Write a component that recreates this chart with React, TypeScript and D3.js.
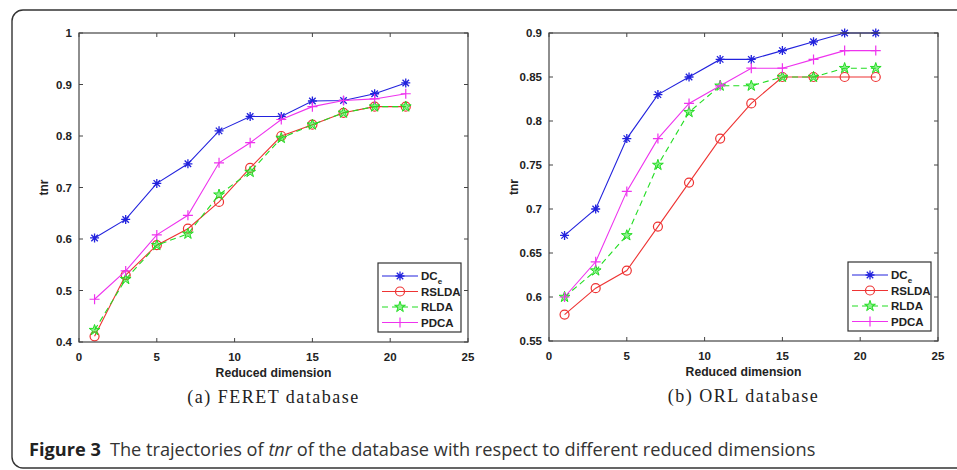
import React from 'react';
import * as d3 from 'd3';

const dims = [1, 3, 5, 7, 9, 11, 13, 15, 17, 19, 21];

// FERET database
const feretDC = [0.602, 0.638, 0.708, 0.746, 0.810, 0.838, 0.838, 0.868, 0.869, 0.882, 0.903];
const feretRSLDA = [0.411, 0.530, 0.588, 0.620, 0.672, 0.738, 0.800, 0.822, 0.845, 0.857, 0.857];
const feretRLDA = [0.423, 0.522, 0.588, 0.610, 0.686, 0.730, 0.796, 0.822, 0.845, 0.857, 0.857];
const feretPDCA = [0.483, 0.538, 0.608, 0.646, 0.748, 0.787, 0.832, 0.857, 0.869, 0.872, 0.882];

// ORL database
const orlDC = [0.67, 0.70, 0.78, 0.83, 0.85, 0.87, 0.87, 0.88, 0.89, 0.90, 0.90];
const orlRSLDA = [0.58, 0.61, 0.63, 0.68, 0.73, 0.78, 0.82, 0.85, 0.85, 0.85, 0.85];
const orlRLDA = [0.60, 0.63, 0.67, 0.75, 0.81, 0.84, 0.84, 0.85, 0.85, 0.86, 0.86];
const orlPDCA = [0.60, 0.64, 0.72, 0.78, 0.82, 0.84, 0.86, 0.86, 0.87, 0.88, 0.88];

const xTicks = [0, 5, 10, 15, 20, 25];
const feretYTicks = [0.4, 0.5, 0.6, 0.7, 0.8, 0.9, 1];
const orlYTicks = [0.55, 0.6, 0.65, 0.7, 0.75, 0.8, 0.85, 0.9];

const seriesNames = ['DC', 'RSLDA', 'RLDA', 'PDCA'];
const colors = ['#2222dd', '#ee3333', '#22dd22', '#ee33ee'];
const markers = ['star', 'circle', 'pentagram', 'plus'];

const axisFont = '"Liberation Sans", Arial, sans-serif';

function Marker({ type, x, y, color }: { type: string; x: number; y: number; color: string }) {
  if (type === 'circle') {
    return <circle cx={x} cy={y} r={4.5} fill="none" stroke={color} strokeWidth={1.2} />;
  }
  if (type === 'plus') {
    return (
      <path d={`M${x - 5},${y}H${x + 5}M${x},${y - 5}V${y + 5}`} stroke={color} strokeWidth={1.2} />
    );
  }
  if (type === 'star') {
    const r = 4.5;
    const d = r * 0.72;
    return (
      <path
        d={`M${x - r},${y}H${x + r}M${x},${y - r}V${y + r}M${x - d},${y - d}L${x + d},${y + d}M${x - d},${y + d}L${x + d},${y - d}`}
        stroke={color}
        strokeWidth={1.3}
      />
    );
  }
  const star = d3.symbol().type(d3.symbolStar).size(36)();
  return (
    <path d={star || ''} transform={`translate(${x},${y})`} fill={color} fillOpacity={0.5} stroke={color} strokeWidth={1} />
  );
}

function Panel({
  left, top, width, height, yDomain, yTicks, tickFmt, series, subtitle,
}: {
  left: number; top: number; width: number; height: number;
  yDomain: [number, number]; yTicks: number[]; tickFmt: (v: number) => string;
  series: number[][]; subtitle: string;
}) {
  const x = d3.scaleLinear().domain([0, 25]).range([left, left + width]);
  const y = d3.scaleLinear().domain(yDomain).range([top + height, top]);
  const line = d3.line<number>().x((_, i) => x(dims[i])).y((v) => y(v));
  const tl = 4;
  const right = left + width;
  const bottom = top + height;

  const lgW = 83;
  const lgH = 69;
  const lgX = right - 7 - lgW;
  const lgY = bottom - 10 - lgH;

  return (
    <g>
      {series.map((vals, si) => (
        <g key={si}>
          <path
            d={line(vals) || ''}
            fill="none"
            stroke={colors[si]}
            strokeWidth={1.1}
            strokeDasharray={si === 2 ? '6,4' : undefined}
          />
          {vals.map((v, i) => (
            <Marker key={i} type={markers[si]} x={x(dims[i])} y={y(v)} color={colors[si]} />
          ))}
        </g>
      ))}
      <rect x={left} y={top} width={width} height={height} fill="none" stroke="#444" strokeWidth={1.2} />
      {xTicks.map((t) => (
        <g key={t}>
          <line x1={x(t)} x2={x(t)} y1={bottom} y2={bottom - tl} stroke="#444" />
          <line x1={x(t)} x2={x(t)} y1={top} y2={top + tl} stroke="#444" />
          <text x={x(t)} y={bottom + 19} textAnchor="middle" fontSize={11.5} fontWeight="bold" fill="#222" fontFamily={axisFont}>
            {t}
          </text>
        </g>
      ))}
      {yTicks.map((t) => (
        <g key={t}>
          <line x1={left} x2={left + tl} y1={y(t)} y2={y(t)} stroke="#444" />
          <line x1={right} x2={right - tl} y1={y(t)} y2={y(t)} stroke="#444" />
          <text x={left - 7} y={y(t) + 4} textAnchor="end" fontSize={11.5} fontWeight="bold" fill="#222" fontFamily={axisFont}>
            {tickFmt(t)}
          </text>
        </g>
      ))}
      <text
        transform={`translate(${left - 31},${(top + bottom) / 2}) rotate(-90)`}
        textAnchor="middle"
        fontSize={12}
        fontWeight="bold"
        fill="#222"
        fontFamily={axisFont}
      >
        tnr
      </text>
      <text x={(left + right) / 2} y={bottom + 35} textAnchor="middle" fontSize={12.2} fontWeight="bold" fill="#222" fontFamily={axisFont}>
        Reduced dimension
      </text>
      <text
        x={(left + right) / 2}
        y={bottom + 61}
        textAnchor="middle"
        fontSize={18}
        letterSpacing={1.5}
        fill="#222"
        fontFamily='"Liberation Serif", serif'
      >
        {subtitle}
      </text>

      <rect x={lgX} y={lgY} width={lgW} height={lgH} fill="#fff" stroke="#333" strokeWidth={1.2} />
      {seriesNames.map((name, si) => {
        const ly = lgY + 13 + si * 15.5;
        const x1 = lgX + 4;
        const x2 = lgX + 40;
        return (
          <g key={name}>
            <line x1={x1} x2={x2} y1={ly} y2={ly} stroke={colors[si]} strokeWidth={1.1} strokeDasharray={si === 2 ? '6,4' : undefined} />
            <Marker type={markers[si]} x={(x1 + x2) / 2} y={ly} color={colors[si]} />
            <text x={x2 + 3} y={ly + 4} fontSize={11.5} fontWeight="bold" fill="#222" fontFamily={axisFont}>
              {name}
              {si === 0 && (
                <tspan fontSize={8} dy={4}>e</tspan>
              )}
            </text>
          </g>
        );
      })}
    </g>
  );
}

export default function App() {
  const fmt1 = (v: number) => (v === 1 ? '1' : d3.format('.1f')(v));
  const fmt2 = (v: number) => {
    const s = d3.format('.2f')(v);
    return s.endsWith('0') ? s.slice(0, -1) : s;
  };
  return (
    <svg width={957} height={470} style={{ position: 'absolute', left: 0, top: 0, background: '#fff' }}>
      <rect x={0} y={0} width={957} height={470} fill="#fff" />
      <rect x={12} y={10} width={970} height={458} rx={11} fill="none" stroke="#333" strokeWidth={1.4} />
      <Panel
        left={79}
        top={33}
        width={389}
        height={309}
        yDomain={[0.4, 1]}
        yTicks={feretYTicks}
        tickFmt={fmt1}
        series={[feretDC, feretRSLDA, feretRLDA, feretPDCA]}
        subtitle="(a) FERET database"
      />
      <Panel
        left={549}
        top={33}
        width={389}
        height={308}
        yDomain={[0.55, 0.9]}
        yTicks={orlYTicks}
        tickFmt={fmt2}
        series={[orlDC, orlRSLDA, orlRLDA, orlPDCA]}
        subtitle="(b) ORL database"
      />
      <text x={29} y={456} fontSize={18.2} fill="#333" fontFamily='"Open Sans", "Noto Sans", sans-serif'>
        <tspan fontWeight="bold" fill="#222">Figure 3</tspan>
        <tspan dx={9}>The trajectories of </tspan>
        <tspan fontStyle="italic">tnr</tspan>
        <tspan> of the database with respect to different reduced dimensions</tspan>
      </text>
    </svg>
  );
}
